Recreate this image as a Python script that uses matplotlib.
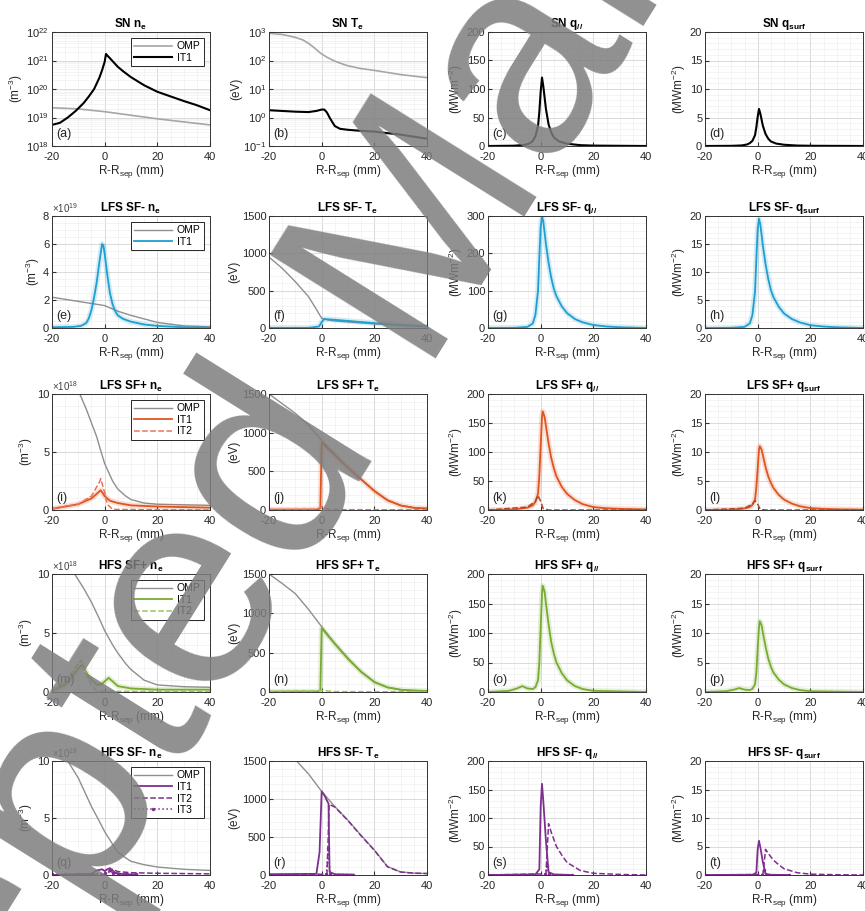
import numpy as np
import matplotlib.pyplot as plt
from matplotlib.ticker import AutoMinorLocator

plt.rcParams['font.family'] = ['Liberation Sans', 'DejaVu Sans']
plt.rcParams['mathtext.fontset'] = 'custom'
plt.rcParams['mathtext.rm'] = 'Liberation Sans'
plt.rcParams['mathtext.it'] = 'Liberation Sans'
plt.rcParams['mathtext.bf'] = 'Liberation Sans:bold'
plt.rcParams['axes.unicode_minus'] = False

# ---------------- data ----------------
# SN
sn_ne_omp_x = [-20, -10, 0, 10, 20, 30, 40]
sn_ne_omp = [2.2e19, 2.0e19, 1.6e19, 1.2e19, 9e18, 7e18, 5.5e18]
sn_ne_it1_x = [-20, -17, -14, -11, -8, -6, -4, -2, -1, 0, 0.5, 1, 2, 3, 5, 7, 10, 15, 20, 25, 30, 35, 40]
sn_ne_it1 = [5.5e18, 6.5e18, 1.0e19, 1.7e19, 3.2e19, 5.5e19, 1.0e20, 2.5e20, 4.5e20, 9e20, 1.7e21, 1.5e21,
             1.2e21, 9.5e20, 6e20, 4.2e20, 2.6e20, 1.35e20, 8e19, 5.5e19, 3.8e19, 2.7e19, 1.8e19]
sn_te_omp_x = [-20, -15, -10, -7, -5, -3, -1, 0, 2, 5, 8, 10, 15, 20, 30, 40]
sn_te_omp = [900, 820, 650, 520, 400, 290, 200, 170, 130, 95, 75, 65, 52, 45, 32, 25]
sn_te_it1_x = [-20, -10, -5, -2, 0, 1, 2, 3, 4, 5, 7, 10, 15, 20, 30, 40]
sn_te_it1 = [1.8, 1.6, 1.55, 1.7, 1.9, 1.9, 1.5, 1.0, 0.7, 0.5, 0.4, 0.37, 0.34, 0.32, 0.25, 0.18]
sn_q_x = [-20, -10, -6, -4, -3, -2, -1, -0.5, 0, 0.5, 1, 1.5, 2, 3, 4, 5, 7, 10, 15, 20, 40]
sn_qpar = [0, 0.5, 2, 5, 9, 17, 35, 60, 95, 120, 105, 85, 65, 38, 24, 15, 8, 4, 1.5, 0.7, 0]
sn_qsurf = [0, 0.03, 0.1, 0.27, 0.5, 0.9, 1.9, 3.3, 5.1, 6.5, 5.7, 4.6, 3.5, 2.1, 1.3, 0.8, 0.43, 0.22, 0.08, 0.04, 0]

# LFS SF-  (ne in 1e19)
lm_ne_omp_x = [-20, -10, 0, 5, 10, 20, 30, 40]
lm_ne_omp = [2.2, 1.9, 1.6, 1.2, 0.9, 0.4, 0.15, 0.08]
lm_ne_it1_x = [-20, -12, -9, -7, -6, -5, -4, -3, -2, -1, -0.5, 0, 1, 2, 3, 4, 5, 7, 10, 15, 20, 30, 40]
lm_ne_it1 = [0.05, 0.08, 0.15, 0.35, 0.7, 1.3, 2.2, 3.3, 4.7, 6.0, 5.9, 5.3, 3.8, 2.5, 1.7, 1.2, 0.9, 0.65,
             0.45, 0.25, 0.15, 0.05, 0.02]
lm_te_omp_x = [-20, -15, -10, -5, -2, 0, 2, 5, 10, 20, 30, 40]
lm_te_omp = [950, 800, 620, 420, 250, 130, 110, 95, 80, 55, 35, 20]
lm_te_it1_x = [-20, -5, -1, 0, 1, 3, 10, 20, 30, 40]
lm_te_it1 = [2, 2, 20, 80, 120, 115, 95, 65, 40, 22]
lm_q_x = [-20, -10, -5, -3, -2, -1, -0.5, 0, 0.5, 1, 1.5, 2, 3, 4, 5, 6, 8, 10, 13, 16, 20, 25, 30, 40]
lm_qpar = [0, 0.5, 3, 12, 35, 100, 190, 270, 300, 285, 255, 225, 175, 135, 105, 85, 58, 40, 24, 15, 8, 4, 2, 0]
lm_qsurf = [0, 0.03, 0.2, 0.8, 2.3, 6.5, 12.4, 17.6, 19.5, 18.5, 16.6, 14.6, 11.4, 8.8, 6.8, 5.5, 3.8, 2.6,
            1.6, 1.0, 0.5, 0.26, 0.13, 0]

# LFS SF+  (ne in 1e18)
lp_ne_omp_x = [-20, -15, -10, -7, -5, -3, -2, 0, 2, 3, 5, 8, 10, 15, 20, 40]
lp_ne_omp = [17, 13.5, 10.3, 8.7, 7.5, 6.3, 5.5, 4.0, 3.0, 2.5, 1.8, 1.2, 0.9, 0.6, 0.5, 0.4]
lp_ne_it1_x = [-20, -10, -5, -2, -1.5, 0, 2, 5, 10, 20, 40]
lp_ne_it1 = [0.1, 0.5, 1.0, 1.6, 1.7, 1.2, 0.8, 0.6, 0.4, 0.3, 0.2]
lp_ne_it2_x = [-20, -10, -5, -2, -1.5, 0, 1, 3, 40]
lp_ne_it2 = [0.1, 0.5, 1.2, 2.4, 2.7, 1.5, 0.5, 0.05, 0.0]
lp_te_omp_x = [-20, -10, -5, 0, 5, 10, 15, 20, 25, 30, 35, 40]
lp_te_omp = [1500, 1250, 1100, 900, 720, 550, 400, 250, 130, 60, 30, 20]
lp_te_it1_x = [-20, -2, -0.5, 0, 5, 10, 15, 20, 25, 30, 35, 40]
lp_te_it1 = [5, 5, 20, 870, 710, 545, 395, 245, 125, 58, 28, 18]
lp_te_it2_x = [-20, -2, 0, 2, 5, 40]
lp_te_it2 = [5, 10, 40, 15, 5, 2]
lp_q_x = [-20, -10, -5, -3, -2, -1, -0.5, 0, 0.5, 0.8, 1.5, 2, 3, 4, 5, 6, 8, 10, 13, 16, 20, 25, 30, 40]
lp_qpar_it1 = [0, 1, 4, 8, 14, 28, 60, 110, 160, 170, 160, 145, 115, 90, 72, 58, 40, 28, 17, 10, 5, 3, 2, 1]
lp_qsurf_it1 = [0, 0.06, 0.26, 0.5, 0.9, 1.8, 3.9, 7.1, 10.4, 11, 10.4, 9.4, 7.4, 5.8, 4.7, 3.8, 2.6, 1.8,
                1.1, 0.65, 0.32, 0.19, 0.13, 0.06]
lp_q2_x = [-20, -5, -2, -1, 0, 1, 3, 40]
lp_qpar_it2 = [0, 5, 15, 25, 15, 2, 0, 0]
lp_qsurf_it2 = [0, 0.3, 1.0, 1.6, 1.0, 0.1, 0, 0]

# HFS SF+  (ne in 1e18)
hp_ne_omp_x = [-20, -15, -11.4, -8, -5, -2, 0, 3, 5, 8, 10, 15, 20, 30, 40]
hp_ne_omp = [14, 12, 10, 8.8, 7.6, 6.2, 5.2, 4.0, 3.3, 2.4, 1.9, 1.0, 0.6, 0.45, 0.4]
hp_ne_it1_x = [-20, -15, -12, -10, -8.5, -6, -3, -1, 1.5, 3, 5, 10, 20, 40]
hp_ne_it1 = [0.1, 0.6, 1.4, 2.0, 2.3, 1.3, 0.6, 0.7, 1.2, 0.9, 0.5, 0.3, 0.2, 0.2]
hp_ne_it2_x = [-20, -15, -12, -9, -7, -5, -3, 0, 40]
hp_ne_it2 = [0.1, 0.8, 1.8, 2.7, 1.6, 0.5, 0.1, 0.05, 0.05]
hp_te_omp_x = [-20, -15, -10, -5, 0, 5, 10, 15, 20, 25, 30, 35, 40]
hp_te_omp = [1500, 1380, 1250, 1050, 830, 620, 430, 260, 130, 60, 30, 20, 15]
hp_te_it1_x = [-20, -2, -0.5, 0, 5, 10, 15, 20, 25, 30, 35, 40]
hp_te_it1 = [5, 5, 20, 810, 610, 420, 255, 125, 58, 28, 18, 13]
hp_te_it2_x = [-20, -8, -5, 0, 5, 40]
hp_te_it2 = [5, 15, 10, 20, 5, 2]
hp_q_x = [-20, -12, -9, -7, -5, -3, -2, -1, -0.5, 0, 0.5, 0.8, 1.5, 2, 3, 4, 5, 6, 8, 10, 13, 16, 20, 40]
hp_qpar = [0, 2, 6, 10, 6, 5, 8, 20, 50, 110, 165, 180, 170, 150, 115, 85, 65, 50, 32, 20, 10, 5, 2, 0]
hp_qsurf = [0, 0.13, 0.4, 0.67, 0.4, 0.33, 0.53, 1.3, 3.3, 7.3, 11, 12, 11.3, 10, 7.7, 5.7, 4.3, 3.3, 2.1,
            1.3, 0.67, 0.33, 0.13, 0]

# HFS SF-  (ne in 1e18)
hm_ne_omp_x = [-20, -14, -10, -5, -2, 0, 3, 5, 8, 10, 15, 20, 30, 40]
hm_ne_omp = [12.5, 10, 8.5, 6, 4.7, 3.8, 2.7, 2, 1.5, 1.2, 0.9, 0.7, 0.5, 0.4]
hm_ne_it1_x = [-20, -5, -3, -1, 0, 1, 2, 4, 6, 10, 12]
hm_ne_it1 = [0, 0.1, 0.4, 0.5, 0.35, 0.5, 0.6, 0.2, 0.1, 0.05, 0.05]
hm_ne_it2_x = [-20, 0, 2, 3, 5, 10, 20, 40]
hm_ne_it2 = [0.02, 0.05, 0.3, 0.5, 0.3, 0.2, 0.15, 0.1]
hm_ne_it3_x = [-20, -15, -10, -5, 0, 2, 3, 5, 8, 12]
hm_ne_it3 = [0.05, 0.05, 0.05, 0.1, 0.15, 0.4, 0.2, 0.1, 0.05, 0.05]
hm_te_omp_x = [-20, -15, -9.5, -5, 0, 5, 10, 15, 20, 25, 30, 35, 40]
hm_te_omp = [1800, 1680, 1500, 1330, 1100, 900, 720, 520, 330, 110, 40, 25, 20]
hm_te_it1_x = [-20, -2, -0.8, 0, 1, 2, 2.6, 3, 5, 12]
hm_te_it1 = [10, 15, 300, 1100, 1050, 980, 940, 40, 10, 5]
hm_te_it2_x = [-20, 2, 2.4, 2.8, 5, 10, 15, 20, 25, 30, 35, 40]
hm_te_it2 = [5, 10, 400, 930, 895, 715, 515, 325, 108, 39, 24, 19]
hm_te_it3_x = [-20, 1.8, 2.5, 3.2, 12]
hm_te_it3 = [5, 10, 350, 10, 5]
hm_q1_x = [-20, -2, -0.5, 0, 0.5, 1, 2, 3, 5, 12]
hm_qpar_it1 = [0, 1, 10, 120, 160, 130, 60, 5, 1, 0]
hm_qsurf_it1 = [0, 0.04, 0.4, 4.5, 6, 4.9, 2.2, 0.2, 0.04, 0]
hm_q2_x = [-20, 2, 3, 4, 6, 8, 10, 15, 20, 30, 40]
hm_qpar_it2 = [0, 2, 90, 75, 50, 35, 22, 8, 3, 1, 0]
hm_qsurf_it2 = [0, 0.1, 4.5, 3.8, 2.6, 1.8, 1.1, 0.4, 0.15, 0.05, 0]
hm_q3_x = [-20, 1.8, 2.5, 3.2, 12]
hm_qpar_it3 = [0, 1, 15, 1, 0]
hm_qsurf_it3 = [0, 0.05, 0.8, 0.05, 0]

row_names = ['SN', 'LFS SF-', 'LFS SF+', 'HFS SF+', 'HFS SF-']
row_colors = ['k', '#1f9ed1', '#e0541f', '#77ac30', '#7e2f8e']
omp_color = '#8f8f8f'
letters = 'abcdefghijklmnopqrst'

W, H = 865, 911
col_left = [52, 269, 488, 705]
col_w = 158
row_top = [32, 216, 394, 574, 761]
row_bot = [146, 328, 510, 692, 875]

fig = plt.figure(figsize=(W / 100, H / 100), dpi=100)


def make_ax(r, c):
    ax = fig.add_axes([col_left[c] / W, 1 - row_bot[r] / H,
                       col_w / W, (row_bot[r] - row_top[r]) / H])
    return ax


def style(ax, r, c, ylim, yticks, ylabel, title, log=False):
    ax.set_xlim(-20, 40)
    ax.set_xticks([-20, 0, 20, 40])
    ax.set_ylim(*ylim)
    if log:
        ax.set_yscale('log')
    ax.set_yticks(yticks)
    if not log:
        ax.yaxis.set_minor_locator(AutoMinorLocator())
    ax.xaxis.set_minor_locator(AutoMinorLocator())
    ax.grid(which='major', color='#d4d4d4', lw=0.6)
    ax.grid(which='minor', color='#ececec', lw=0.4)
    ax.set_axisbelow(True)
    ax.tick_params(which='major', direction='in', length=3, labelsize=8,
                   color='#333333', labelcolor='#262626', pad=2)
    ax.tick_params(axis='x', which='major', pad=4)
    ax.tick_params(which='minor', length=0)
    for s in ax.spines.values():
        s.set_color('#333333')
        s.set_linewidth(0.7)
    ax.set_xlabel(r'R-R$_{\mathrm{sep}}$ (mm)', fontsize=8.5, labelpad=1, color='#262626')
    ax.set_ylabel(ylabel, fontsize=8.5, labelpad=1, color='#262626')
    ax.set_title(title, fontsize=8.5, fontweight='bold', pad=3)
    ax.text(0.03, 0.05, '(%s)' % letters[r * 4 + c], transform=ax.transAxes,
            fontsize=9, ha='left', va='bottom', color='#262626')


def line(ax, x, y, color, ls='-', lw=1.3, label=None, band=False, **kw):
    if band:
        ax.plot(x, y, color=color, lw=4, alpha=0.18, solid_capstyle='round')
    ax.plot(x, y, color=color, ls=ls, lw=lw, label=label, **kw)


def legend(ax):
    leg = ax.legend(loc='upper right', fontsize=7.5, handlelength=3.6,
                    fancybox=False, framealpha=1, edgecolor='#262626',
                    borderpad=0.3, labelspacing=0.15, handletextpad=0.5,
                    borderaxespad=0.6)
    leg.get_frame().set_linewidth(0.7)


ne_unit = r'(m$^{-3}$)'
te_unit = '(eV)'
q_unit = r'(MWm$^{-2}$)'


def titles(name):
    return [name + r' n$_{\mathbf{e}}$', name + r' T$_{\mathbf{e}}$',
            name + r' q$_{\mathbf{//}}$', name + r' q$_{\mathbf{surf}}$']


def sci(ax, p):
    ax.text(0.0, 1.01, r'$\times10^{%d}$' % p, transform=ax.transAxes,
            fontsize=7, ha='left', va='bottom', color='#404040')


# ---------------- row 1 : SN ----------------
r = 0
col = row_colors[r]
t = titles(row_names[r])
ax = make_ax(r, 0)
line(ax, sn_ne_omp_x, sn_ne_omp, '#a6a6a6', lw=1.2, label='OMP')
line(ax, sn_ne_it1_x, sn_ne_it1, col, lw=1.5, label='IT1')
style(ax, r, 0, (1e18, 1e22), [1e18, 1e19, 1e20, 1e21, 1e22], ne_unit, t[0], log=True)
legend(ax)
ax = make_ax(r, 1)
line(ax, sn_te_omp_x, sn_te_omp, '#a6a6a6', lw=1.2)
line(ax, sn_te_it1_x, sn_te_it1, col, lw=1.5)
style(ax, r, 1, (0.1, 1000), [0.1, 1, 10, 100, 1000], te_unit, t[1], log=True)
ax = make_ax(r, 2)
line(ax, sn_q_x, sn_qpar, col, lw=1.5)
style(ax, r, 2, (0, 200), [0, 50, 100, 150, 200], q_unit, t[2])
ax = make_ax(r, 3)
line(ax, sn_q_x, sn_qsurf, col, lw=1.5)
style(ax, r, 3, (0, 20), [0, 5, 10, 15, 20], q_unit, t[3])

# ---------------- row 2 : LFS SF- ----------------
r = 1
col = row_colors[r]
t = titles(row_names[r])
ax = make_ax(r, 0)
line(ax, lm_ne_omp_x, lm_ne_omp, omp_color, lw=1.0, label='OMP')
line(ax, lm_ne_it1_x, lm_ne_it1, col, label='IT1', band=True)
style(ax, r, 0, (0, 8), [0, 2, 4, 6, 8], ne_unit, t[0])
sci(ax, 19)
legend(ax)
ax = make_ax(r, 1)
line(ax, lm_te_omp_x, lm_te_omp, omp_color, lw=1.0)
line(ax, lm_te_it1_x, lm_te_it1, col, band=True)
style(ax, r, 1, (0, 1500), [0, 500, 1000, 1500], te_unit, t[1])
ax = make_ax(r, 2)
line(ax, lm_q_x, lm_qpar, col, band=True)
style(ax, r, 2, (0, 300), [0, 100, 200, 300], q_unit, t[2])
ax = make_ax(r, 3)
line(ax, lm_q_x, lm_qsurf, col, band=True)
style(ax, r, 3, (0, 20), [0, 5, 10, 15, 20], q_unit, t[3])

# ---------------- row 3 : LFS SF+ ----------------
r = 2
col = row_colors[r]
t = titles(row_names[r])
ax = make_ax(r, 0)
line(ax, lp_ne_omp_x, lp_ne_omp, omp_color, lw=1.0, label='OMP')
line(ax, lp_ne_it1_x, lp_ne_it1, col, label='IT1', band=True)
line(ax, lp_ne_it2_x, lp_ne_it2, '#e8735a', ls='--', lw=1.1, label='IT2')
style(ax, r, 0, (0, 10), [0, 5, 10], ne_unit, t[0])
sci(ax, 18)
legend(ax)
ax = make_ax(r, 1)
line(ax, lp_te_omp_x, lp_te_omp, omp_color, lw=1.0)
line(ax, lp_te_it1_x, lp_te_it1, col, band=True)
line(ax, lp_te_it2_x, lp_te_it2, '#e8735a', ls='--', lw=1.1)
style(ax, r, 1, (0, 1500), [0, 500, 1000, 1500], te_unit, t[1])
ax = make_ax(r, 2)
line(ax, lp_q_x, lp_qpar_it1, col, band=True)
line(ax, lp_q2_x, lp_qpar_it2, '#b0452a', ls='--', lw=1.1)
style(ax, r, 2, (0, 200), [0, 50, 100, 150, 200], q_unit, t[2])
ax = make_ax(r, 3)
line(ax, lp_q_x, lp_qsurf_it1, col, band=True)
line(ax, lp_q2_x, lp_qsurf_it2, '#b0452a', ls='--', lw=1.1)
style(ax, r, 3, (0, 20), [0, 5, 10, 15, 20], q_unit, t[3])

# ---------------- row 4 : HFS SF+ ----------------
r = 3
col = row_colors[r]
t = titles(row_names[r])
ax = make_ax(r, 0)
line(ax, hp_ne_omp_x, hp_ne_omp, omp_color, lw=1.0, label='OMP')
line(ax, hp_ne_it1_x, hp_ne_it1, col, label='IT1', band=True)
line(ax, hp_ne_it2_x, hp_ne_it2, '#9cc45e', ls='--', lw=1.1, label='IT2')
style(ax, r, 0, (0, 10), [0, 5, 10], ne_unit, t[0])
sci(ax, 18)
legend(ax)
ax = make_ax(r, 1)
line(ax, hp_te_omp_x, hp_te_omp, omp_color, lw=1.0)
line(ax, hp_te_it1_x, hp_te_it1, col, band=True)
line(ax, hp_te_it2_x, hp_te_it2, '#9cc45e', ls='--', lw=1.1)
style(ax, r, 1, (0, 1500), [0, 500, 1000, 1500], te_unit, t[1])
ax = make_ax(r, 2)
line(ax, hp_q_x, hp_qpar, col, band=True)
style(ax, r, 2, (0, 200), [0, 50, 100, 150, 200], q_unit, t[2])
ax = make_ax(r, 3)
line(ax, hp_q_x, hp_qsurf, col, band=True)
style(ax, r, 3, (0, 20), [0, 5, 10, 15, 20], q_unit, t[3])

# ---------------- row 5 : HFS SF- ----------------
r = 4
col = row_colors[r]
t = titles(row_names[r])
ax = make_ax(r, 0)
line(ax, hm_ne_omp_x, hm_ne_omp, omp_color, lw=1.0, label='OMP')
line(ax, hm_ne_it1_x, hm_ne_it1, col, label='IT1')
line(ax, hm_ne_it2_x, hm_ne_it2, col, ls='--', lw=1.1, label='IT2')
line(ax, hm_ne_it3_x, hm_ne_it3, col, ls=':', lw=1.1, marker='.', ms=3, label='IT3')
style(ax, r, 0, (0, 10), [0, 5, 10], ne_unit, t[0])
sci(ax, 18)
legend(ax)
ax = make_ax(r, 1)
line(ax, hm_te_omp_x, hm_te_omp, omp_color, lw=1.0)
line(ax, hm_te_it1_x, hm_te_it1, col)
line(ax, hm_te_it2_x, hm_te_it2, col, ls='--', lw=1.1)
line(ax, hm_te_it3_x, hm_te_it3, col, ls=':', lw=1.1, marker='.', ms=3)
style(ax, r, 1, (0, 1500), [0, 500, 1000, 1500], te_unit, t[1])
ax = make_ax(r, 2)
line(ax, hm_q1_x, hm_qpar_it1, col)
line(ax, hm_q2_x, hm_qpar_it2, col, ls='--', lw=1.1)
line(ax, hm_q3_x, hm_qpar_it3, col, ls=':', lw=1.1, marker='.', ms=3)
style(ax, r, 2, (0, 200), [0, 50, 100, 150, 200], q_unit, t[2])
ax = make_ax(r, 3)
line(ax, hm_q1_x, hm_qsurf_it1, col)
line(ax, hm_q2_x, hm_qsurf_it2, col, ls='--', lw=1.1)
line(ax, hm_q3_x, hm_qsurf_it3, col, ls=':', lw=1.1, marker='.', ms=3)
style(ax, r, 3, (0, 20), [0, 5, 10, 15, 20], q_unit, t[3])

# watermark across the page
fig.text(0.457, 0.687, 'Accepted Manuscript', rotation=58, fontsize=205,
         color='#7d7d7d', alpha=0.85, ha='center', va='center',
         rotation_mode='anchor', zorder=20)

fig.savefig('out.png', dpi=100)
